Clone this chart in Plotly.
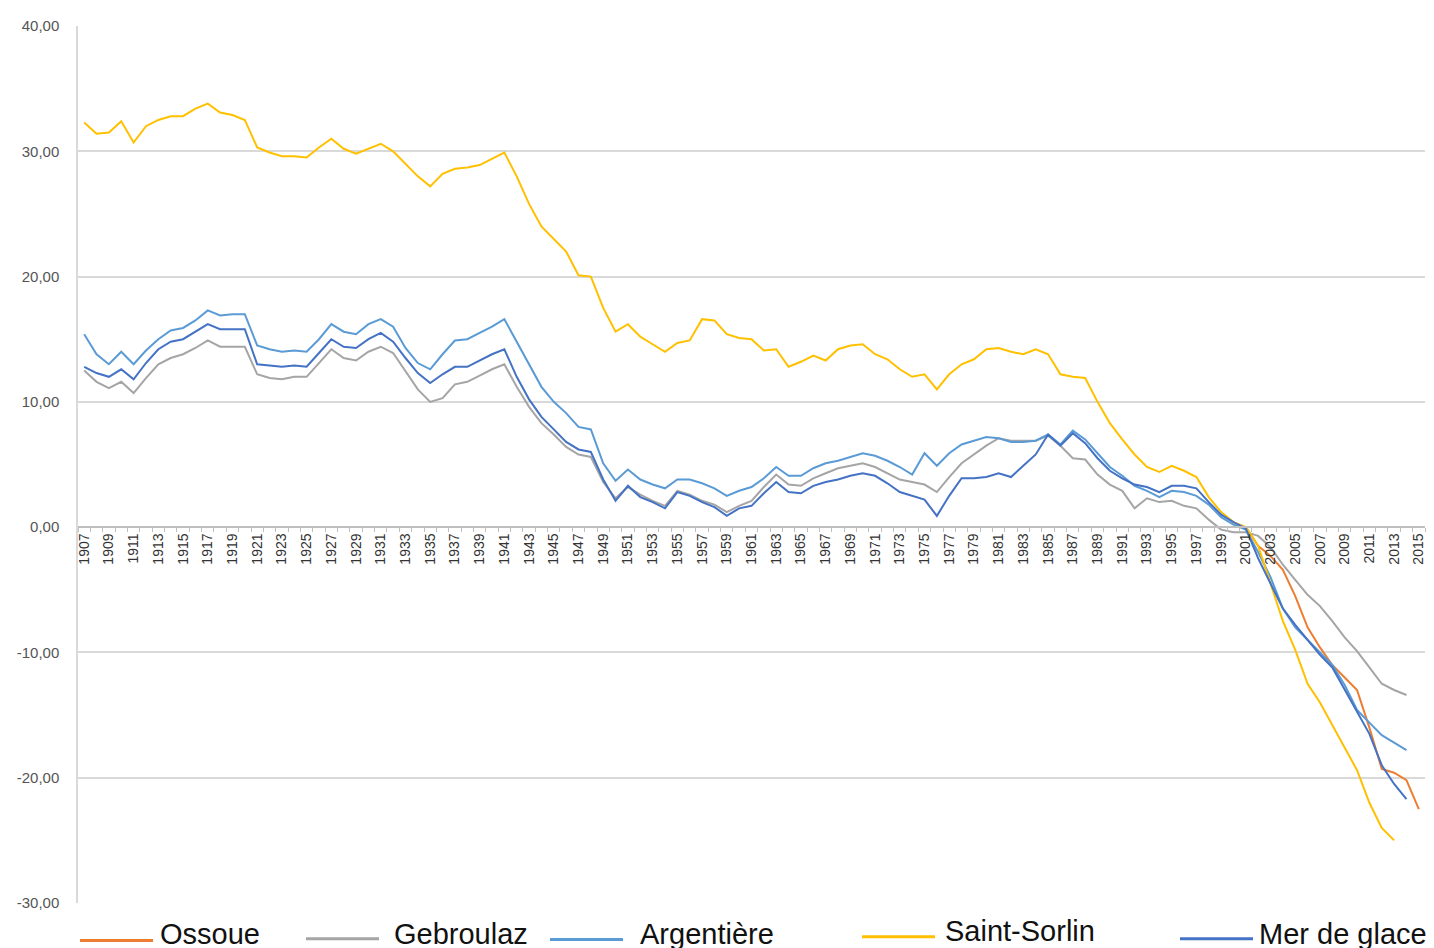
import plotly.graph_objects as go

# years on the category axis
years = list(range(1907, 2016))

# cumulative values (None = no data)
ossoue = [None] * 94 + [
    0.0, -1.5, -2.3, -3.4, -5.5, -8.0, -9.6, -11.0, -12.0, -13.0,
    -16.0, -19.3, -19.6, -20.2, -22.5,
]

gebroulaz = [
    12.5, 11.6, 11.1, 11.6, 10.7, 11.9, 13.0, 13.5, 13.8, 14.3,
    14.9, 14.4, 14.4, 14.4, 12.2, 11.9, 11.8, 12.0, 12.0, 13.1,
    14.2, 13.5, 13.3, 14.0, 14.4, 13.9, 12.5, 11.0, 10.0, 10.3,
    11.4, 11.6, 12.1, 12.6, 13.0, 11.2, 9.6, 8.3, 7.4, 6.4,
    5.8, 5.6, 3.6, 2.3, 3.2, 2.6, 2.1, 1.7, 2.9, 2.6,
    2.1, 1.8, 1.2, 1.7, 2.1, 3.2, 4.2, 3.4, 3.3, 3.9,
    4.3, 4.7, 4.9, 5.1, 4.8, 4.3, 3.8, 3.6, 3.4, 2.8,
    4.0, 5.1, 5.8, 6.5, 7.1, 6.9, 6.9, 6.9, 7.3, 6.5,
    5.5, 5.4, 4.2, 3.4, 2.9, 1.5, 2.3, 2.0, 2.1, 1.7,
    1.5, 0.6, -0.2, -0.4, -0.4, -0.7, -1.6, -3.0, -4.2, -5.4,
    -6.3, -7.5, -8.8, -9.9, -11.2, -12.5, -13.0, -13.4, None,
]

argentiere = [
    15.4, 13.8, 13.0, 14.0, 13.0, 14.1, 15.0, 15.7, 15.9, 16.5,
    17.3, 16.9, 17.0, 17.0, 14.5, 14.2, 14.0, 14.1, 14.0, 15.0,
    16.2, 15.6, 15.4, 16.2, 16.6, 16.0, 14.3, 13.1, 12.6, 13.8,
    14.9, 15.0, 15.5, 16.0, 16.6, 14.8, 13.0, 11.2, 10.0, 9.1,
    8.0, 7.8, 5.1, 3.7, 4.6, 3.8, 3.4, 3.1, 3.8, 3.8,
    3.5, 3.1, 2.5, 2.9, 3.2, 3.9, 4.8, 4.1, 4.1, 4.7,
    5.1, 5.3, 5.6, 5.9, 5.7, 5.3, 4.8, 4.2, 5.9, 4.9,
    5.9, 6.6, 6.9, 7.2, 7.1, 6.8, 6.8, 6.9, 7.4, 6.6,
    7.7, 7.0, 5.9, 4.8, 4.1, 3.3, 2.9, 2.4, 2.9, 2.8,
    2.5, 1.8, 0.8, 0.2, -0.2, -2.0, -4.0, -6.5, -8.0, -9.0,
    -10.0, -11.0, -12.6, -14.6, -15.6, -16.6, -17.2, -17.8, None,
]

saint_sorlin = [
    32.3, 31.4, 31.5, 32.4, 30.7, 32.0, 32.5, 32.8, 32.8, 33.4,
    33.8, 33.1, 32.9, 32.5, 30.3, 29.9, 29.6, 29.6, 29.5, 30.3,
    31.0, 30.2, 29.8, 30.2, 30.6, 30.0, 29.0, 28.0, 27.2, 28.2,
    28.6, 28.7, 28.9, 29.4, 29.9, 28.0, 25.8, 24.0, 23.0, 22.0,
    20.1, 20.0, 17.5, 15.6, 16.2, 15.2, 14.6, 14.0, 14.7, 14.9,
    16.6, 16.5, 15.4, 15.1, 15.0, 14.1, 14.2, 12.8, 13.2, 13.7,
    13.3, 14.2, 14.5, 14.6, 13.8, 13.4, 12.6, 12.0, 12.2, 11.0,
    12.2, 13.0, 13.4, 14.2, 14.3, 14.0, 13.8, 14.2, 13.8, 12.2,
    12.0, 11.9, 10.0, 8.3, 7.0, 5.8, 4.8, 4.4, 4.9, 4.5,
    4.0, 2.4, 1.2, 0.4, 0.0, -1.5, -4.5, -7.5, -9.8, -12.5,
    -14.0, -15.8, -17.6, -19.4, -22.0, -24.0, -25.0, None, None,
]

mer_de_glace = [
    12.8, 12.3, 12.0, 12.6, 11.8, 13.1, 14.2, 14.8, 15.0, 15.6,
    16.2, 15.8, 15.8, 15.8, 13.0, 12.9, 12.8, 12.9, 12.8, 13.9,
    15.0, 14.4, 14.3, 15.0, 15.5, 14.8, 13.5, 12.3, 11.5, 12.2,
    12.8, 12.8, 13.3, 13.8, 14.2, 12.0, 10.2, 8.8, 7.8, 6.8,
    6.2, 6.0, 3.8, 2.1, 3.3, 2.4, 2.0, 1.5, 2.8, 2.5,
    2.0, 1.6, 0.9, 1.5, 1.7, 2.7, 3.6, 2.8, 2.7, 3.3,
    3.6, 3.8, 4.1, 4.3, 4.1, 3.5, 2.8, 2.5, 2.2, 0.9,
    2.5, 3.9, 3.9, 4.0, 4.3, 4.0, 4.9, 5.8, 7.4, 6.5,
    7.5, 6.7, 5.5, 4.5, 3.9, 3.4, 3.2, 2.8, 3.3, 3.3,
    3.1, 2.0, 1.0, 0.4, -0.1, -2.5, -4.5, -6.5, -7.8, -9.0,
    -10.2, -11.2, -13.0, -14.8, -16.5, -19.0, -20.5, -21.7, None,
]

names = ["Ossoue", "Gebroulaz", "Argentière", "Saint-Sorlin", "Mer de glace"]
colors = ["#ED7D31", "#A5A5A5", "#5B9BD5", "#FFC000", "#4472C4"]
series = [ossoue, gebroulaz, argentiere, saint_sorlin, mer_de_glace]

y_ticks = [-30, -20, -10, 0, 10, 20, 30, 40]
y_labels = ["-30,00", "-20,00", "-10,00", "0,00", "10,00", "20,00", "30,00", "40,00"]

fig = go.Figure()
for name, color, vals in zip(names, colors, series):
    fig.add_trace(go.Scatter(
        x=years, y=vals, mode="lines", name=name,
        line=dict(color=color, width=2),
        showlegend=False,
    ))

# hand-made legend under the plot, with long line samples like the original
# (plot area spans x 78..1425 and y 17..903 in page pixels)
def px(x):
    return (x - 78) / 1347.0

def py(y):
    return (903 - y) / 886.0

legend_pos = [(80, 158, 941, 934), (306, 392, 939, 934), (550, 638, 940, 934),
              (862, 943, 937, 931), (1180, 1257, 939, 934)]
for (x0, xt, yl, yt), name, color in zip(legend_pos, names, colors):
    fig.add_shape(type="line", xref="paper", yref="paper",
                  x0=px(x0), x1=px(x0 + 73), y0=py(yl), y1=py(yl),
                  line=dict(color=color, width=3))
    fig.add_annotation(xref="paper", yref="paper", x=px(xt), y=py(yt),
                       text=name, showarrow=False, xanchor="left", yanchor="middle",
                       font=dict(family="Liberation Sans, Arial", size=29, color="#111111"))

fig.update_xaxes(
    range=[1906.5, 2015.5],
    anchor="free", position=30 / 70,
    tickmode="array", tickvals=years[::2], ticktext=[str(y) for y in years[::2]],
    tickangle=-90, ticks="",
    tickfont=dict(family="Liberation Sans, Arial", size=14, color="#333333"),
    showline=True, linecolor="#bfbfbf", linewidth=1.5,
    showgrid=False, zeroline=False,
    minor=dict(tickmode="linear", tick0=1906.5, dtick=1, ticks="outside",
               ticklen=4, tickcolor="#bfbfbf", tickwidth=1, showgrid=False),
)
fig.update_yaxes(
    range=[-30, 40],
    tickmode="array", tickvals=y_ticks, ticktext=y_labels,
    tickfont=dict(family="Liberation Sans, Arial", size=15, color="#555555"),
    showgrid=True, gridcolor="#d9d9d9", gridwidth=1.5,
    showline=True, linecolor="#d9d9d9", linewidth=1.5,
    zeroline=False, ticks="", ticklabelstandoff=14,
)
# the page body adds an 8px offset, so the margins absorb it
fig.update_layout(
    width=1434, height=948,
    margin=dict(l=70, r=17, t=9, b=53),
    plot_bgcolor="white", paper_bgcolor="white",
    font=dict(family="Liberation Sans, Arial"),
)

fig.write_html("out.html")
